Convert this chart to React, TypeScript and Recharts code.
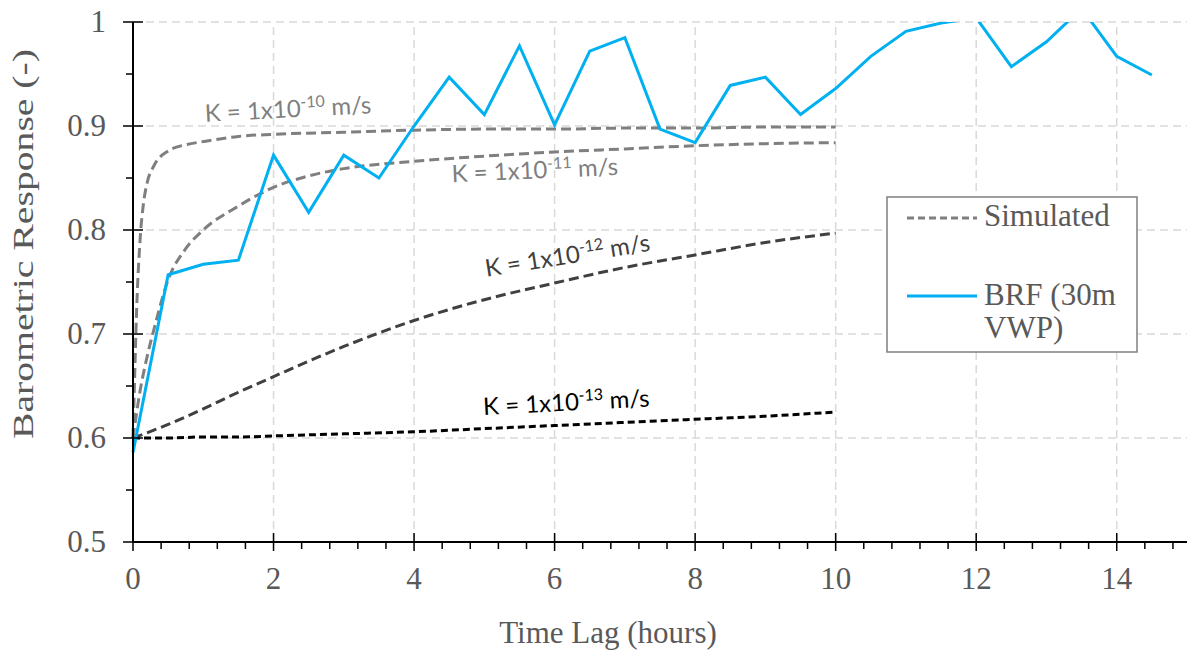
import React from 'react';
import {
    LineChart, Line, XAxis, YAxis, ReferenceLine, ReferenceDot
} from 'recharts';

// Measured barometric response (30m VWP), every half hour
const brfTime = [0, 0.5, 1, 1.5, 2, 2.5, 3, 3.5, 4, 4.5, 5, 5.5, 6, 6.5, 7, 7.5, 8, 8.5, 9, 9.5, 10, 10.5, 11, 11.5, 12, 12.5, 13, 13.5, 14, 14.5];
const brfValues = [0.586, 0.757, 0.767, 0.771, 0.872, 0.817, 0.872, 0.850, 0.900, 0.947, 0.911, 0.977, 0.901, 0.972, 0.985, 0.897, 0.884, 0.939, 0.947, 0.911, 0.936, 0.967, 0.991, 0.999, 1.004, 0.957, 0.981, 1.013, 0.967, 0.949];

// Simulated curves
const timeK10 = [0, 0.02, 0.05, 0.1, 0.15, 0.2, 0.3, 0.5, 0.75, 1, 1.5, 2, 3, 4, 5, 6, 7, 8, 9, 10];
const simK10 = [0.6, 0.65, 0.72, 0.79, 0.826, 0.845, 0.862, 0.876, 0.882, 0.885, 0.89, 0.892, 0.894, 0.896, 0.897, 0.897, 0.898, 0.898, 0.899, 0.899];

const timeK11 = [0, 0.1, 0.2, 0.3, 0.5, 0.75, 1, 1.5, 2, 2.5, 3, 4, 5, 6, 7, 8, 9, 10];
const simK11 = [0.6, 0.645, 0.678, 0.705, 0.752, 0.782, 0.8, 0.823, 0.841, 0.852, 0.859, 0.866, 0.871, 0.875, 0.878, 0.881, 0.883, 0.884];

const timeSlow = [0, 0.5, 1, 1.5, 2, 3, 4, 5, 6, 7, 8, 9, 10];
const simK12 = [0.6, 0.613, 0.628, 0.644, 0.659, 0.688, 0.713, 0.733, 0.749, 0.764, 0.776, 0.788, 0.797];
const simK13 = [0.6, 0.6, 0.601, 0.601, 0.602, 0.604, 0.606, 0.609, 0.612, 0.615, 0.618, 0.621, 0.625];

const xMajor = [0, 2, 4, 6, 8, 10, 12, 14];
const xLabels = ['0', '2', '4', '6', '8', '10', '12', '14'];
const yMajor = [0.5, 0.6, 0.7, 0.8, 0.9, 1];
const yLabels = ['0.5', '0.6', '0.7', '0.8', '0.9', '1'];

// curve labels: [exponent, t, value, angle, colour]
const curveLabels: [string, number, number, number, string][] = [
    ['-10', 1.03, 0.904, -3, '#7f7f7f'],
    ['-11', 4.54, 0.846, -2.5, '#7f7f7f'],
    ['-12', 5.03, 0.755, -9, '#404040'],
    ['-13', 4.99, 0.622, -3, '#000000'],
];

const toRows = (ts: number[], vs: number[]) => ts.map((t, i) => ({ t, v: vs[i] }));

const PLOT_LEFT = 133;
const PLOT_BOTTOM = 542;
const SERIF = "'Liberation Serif', 'Times New Roman', serif";
const TEXT_GREY = '#595959';
const serifStyle = { fontFamily: SERIF, fontSize: 31, fill: TEXT_GREY };

// minor ticks: 0.4 h on x, 0.05 on y
const xTicks = Array.from({ length: 38 }, (_, i) => Math.round(i * 4) / 10);
const yTicks = Array.from({ length: 11 }, (_, i) => Math.round(50 + i * 5) / 100);

const isMultiple = (v: number, step: number) => Math.abs(v / step - Math.round(v / step)) < 1e-6;

// tick marks only (labels are drawn separately)
const YTick = (props: any) => {
    const { y, payload } = props;
    const major = isMultiple(payload.value, 0.1);
    return (
        <line x1={major ? PLOT_LEFT - 10 : PLOT_LEFT - 7} x2={major ? PLOT_LEFT + 10 : PLOT_LEFT} y1={y} y2={y} stroke="#000" strokeWidth={1.5} />
    );
};

const XTick = (props: any) => {
    const { x, payload } = props;
    const major = isMultiple(payload.value, 2);
    return (
        <line x1={x} x2={x} y1={major ? PLOT_BOTTOM - 9 : PLOT_BOTTOM} y2={major ? PLOT_BOTTOM + 9 : PLOT_BOTTOM + 7} stroke="#000" strokeWidth={1.5} />
    );
};

const tickLabel = (text: string, dx: number, dy: number, anchor: 'start' | 'middle' | 'end') => (props: any) => {
    const vb = props.viewBox || {};
    const x = (vb.x ?? 0) + (vb.width ?? 0) / 2 + dx;
    const y = (vb.y ?? 0) + (vb.height ?? 0) / 2 + dy;
    return (
        <text x={x} y={y} textAnchor={anchor} style={serifStyle}>{text}</text>
    );
};

const LegendBox = () => (
    <svg width={252} height={157} style={{ position: 'absolute', left: 886, top: 196 }}>
        <rect x={1} y={1} width={250} height={155} fill="#fff" stroke="#7f7f7f" strokeWidth={1.5} />
        <line x1={21} x2={91} y1={22} y2={22} stroke="#7f7f7f" strokeWidth={3} strokeDasharray="7 4" />
        <text x={98} y={30} style={serifStyle}>Simulated</text>
        <line x1={21} x2={91} y1={100} y2={100} stroke="#00b0f0" strokeWidth={3} />
        <text x={98} y={109} style={serifStyle}>BRF (30m</text>
        <text x={98} y={142} style={serifStyle}>VWP)</text>
    </svg>
);

const makeCurveLabel = (exp: string, angle: number, color: string) => (props: any) => {
    const vb = props.viewBox || {};
    const x = (vb.x ?? 0) + (vb.width ?? 0) / 2;
    const y = (vb.y ?? 0) + (vb.height ?? 0) / 2;
    return (
        <text x={x} y={y} transform={`rotate(${angle} ${x} ${y})`} style={{ fontFamily: "Lato, 'Open Sans', sans-serif", fontSize: 24, fill: color }}>
            K = 1x10<tspan dy={-9} style={{ fontSize: 16 }}>{exp}</tspan><tspan dy={9}> m/s</tspan>
        </text>
    );
};

const App: React.FC = () => {
    return (
        <div style={{ position: 'absolute', left: 0, top: 0, width: 1194, height: 654, background: '#fff' }}>
            <LineChart width={1194} height={654} margin={{ top: 22, right: 7, bottom: 0, left: 0 }}>
                <XAxis
                    type="number"
                    dataKey="t"
                    domain={[0, 15]}
                    ticks={xTicks}
                    interval={0}
                    height={112}
                    axisLine={{ stroke: '#000', strokeWidth: 2 }}
                    tickLine={false}
                    tick={<XTick />}
                    label={{
                        content: () => (
                            <text x={608} y={643} textAnchor="middle" style={serifStyle}>
                                Time Lag (hours)
                            </text>
                        ),
                    }}
                />
                <YAxis
                    type="number"
                    domain={[0.5, 1]}
                    allowDataOverflow
                    ticks={yTicks}
                    interval={0}
                    width={133}
                    axisLine={{ stroke: '#000', strokeWidth: 2 }}
                    tickLine={false}
                    tick={<YTick />}
                    label={{
                        content: () => (
                            <text
                                x={33}
                                y={244}
                                transform="rotate(-90 33 244)"
                                textAnchor="middle"
                                style={{ ...serifStyle, fontSize: 30 }}
                                textLength={390}
                                lengthAdjust="spacingAndGlyphs"
                            >
                                Barometric Response (-)
                            </text>
                        ),
                    }}
                />

                {/* dashed gridlines */}
                {yMajor.filter(v => v > 0.5).map(v => (
                    <ReferenceLine key={`gy-${v}`} y={v} stroke="#d9d9d9" strokeWidth={1.5} strokeDasharray="8 5" />
                ))}
                {xMajor.filter(v => v > 0).map(v => (
                    <ReferenceLine key={`gx-${v}`} x={v} stroke="#d9d9d9" strokeWidth={1.5} strokeDasharray="8 5" />
                ))}

                <Line data={toRows(timeSlow, simK13)} dataKey="v" type="monotone" stroke="#000000" strokeWidth={3} strokeDasharray="7 4" dot={false} activeDot={false} isAnimationActive={false} />
                <Line data={toRows(timeSlow, simK12)} dataKey="v" type="monotone" stroke="#404040" strokeWidth={3} strokeDasharray="10 5" dot={false} activeDot={false} isAnimationActive={false} />
                <Line data={toRows(timeK11, simK11)} dataKey="v" type="monotone" stroke="#7f7f7f" strokeWidth={3} strokeDasharray="10 5" dot={false} activeDot={false} isAnimationActive={false} />
                <Line data={toRows(timeK10, simK10)} dataKey="v" type="monotone" stroke="#7f7f7f" strokeWidth={3} strokeDasharray="10 5" dot={false} activeDot={false} isAnimationActive={false} />
                <Line data={toRows(brfTime, brfValues)} dataKey="v" type="linear" stroke="#00b0f0" strokeWidth={3} dot={false} activeDot={false} isAnimationActive={false} />

                {/* axis tick labels, placed through the axis scales */}
                {yMajor.map((v, i) => (
                    <ReferenceDot key={`yl-${v}`} x={0} y={v} r={1} fill="none" stroke="none" ifOverflow="visible"
                        label={tickLabel(yLabels[i], PLOT_LEFT - 133 - 27, 10, 'end')} />
                ))}
                {xMajor.map((v, i) => (
                    <ReferenceDot key={`xl-${v}`} x={v} y={0.5} r={1} fill="none" stroke="none" ifOverflow="visible"
                        label={tickLabel(xLabels[i], 0, 47, 'middle')} />
                ))}

                {curveLabels.map(([exp, t, v, angle, color]) => (
                    <ReferenceDot
                        key={exp}
                        x={t}
                        y={v}
                        r={1}
                        fill="none"
                        stroke="none"
                        ifOverflow="visible"
                        label={makeCurveLabel(exp, angle, color)}
                    />
                ))}
            </LineChart>
            <LegendBox />
        </div>
    );
};

export default App;
